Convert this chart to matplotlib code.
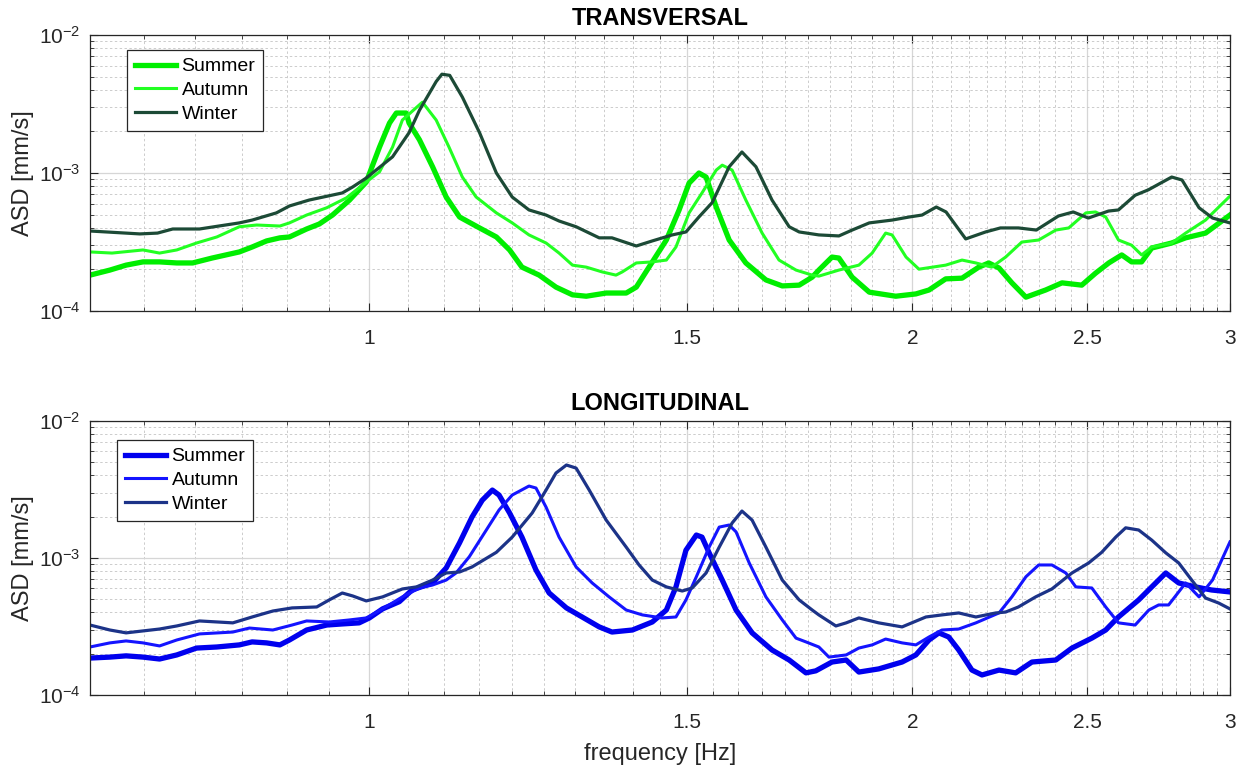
import numpy as np
import matplotlib
matplotlib.use("Agg")
import matplotlib.pyplot as plt
from matplotlib.ticker import FixedLocator, FixedFormatter, LogLocator, NullFormatter

plt.rcParams['font.family'] = ['Liberation Sans', 'DejaVu Sans']
plt.rcParams['mathtext.fontset'] = 'custom'
plt.rcParams['mathtext.rm'] = 'Liberation Sans'
plt.rcParams['mathtext.default'] = 'regular'

# ---- data (frequency in Hz, ASD in mm/s) ----
# TRANSVERSAL
f_t_summer = [0.700, 0.718, 0.733, 0.749, 0.765, 0.782, 0.798, 0.818, 0.847, 0.861,
              0.877, 0.892, 0.903, 0.923, 0.938, 0.954, 0.975, 0.996, 1.013, 1.026,
              1.035, 1.048, 1.052, 1.066, 1.084, 1.103, 1.122, 1.151, 1.176, 1.196,
              1.215, 1.242, 1.269, 1.296, 1.319, 1.353, 1.388, 1.406, 1.429, 1.461,
              1.485, 1.504, 1.523, 1.537, 1.557, 1.583, 1.617, 1.659, 1.694, 1.731,
              1.760, 1.775, 1.805, 1.821, 1.852, 1.893, 1.958, 2.009, 2.043, 2.087,
              2.131, 2.177, 2.205, 2.234, 2.271, 2.312, 2.371, 2.421, 2.483, 2.527,
              2.570, 2.613, 2.646, 2.680, 2.715, 2.785, 2.835, 2.908, 3.000]
a_t_summer = [1.82, 1.98, 2.15, 2.27, 2.27, 2.23, 2.23, 2.42, 2.68, 2.91,
              3.22, 3.39, 3.44, 3.93, 4.27, 4.96, 6.37, 8.6, 15.4, 23.0,
              27.2, 27.2, 23.0, 17.4, 11.1, 6.7, 4.8, 4.0, 3.44, 2.77,
              2.08, 1.82, 1.49, 1.31, 1.28, 1.35, 1.35, 1.49, 2.08, 3.27,
              5.4, 8.45, 10.0, 9.35, 5.67, 3.27, 2.23, 1.68, 1.52, 1.54,
              1.76, 1.98, 2.46, 2.42, 1.76, 1.37, 1.28, 1.33, 1.42, 1.71,
              1.73, 2.08, 2.23, 2.05, 1.60, 1.26, 1.42, 1.60, 1.54, 1.88,
              2.23, 2.55, 2.27, 2.27, 2.86, 3.11, 3.39, 3.67, 4.96]

f_t_autumn = [0.700, 0.720, 0.749, 0.765, 0.782, 0.802, 0.823, 0.847, 0.866, 0.892,
              0.903, 0.923, 0.947, 0.971, 0.996, 1.013, 1.030, 1.043, 1.070, 1.089,
              1.107, 1.126, 1.146, 1.176, 1.200, 1.226, 1.253, 1.274, 1.296, 1.319,
              1.346, 1.370, 1.381, 1.406, 1.435, 1.461, 1.479, 1.504, 1.529, 1.557,
              1.569, 1.589, 1.617, 1.651, 1.687, 1.724, 1.760, 1.775, 1.821, 1.868,
              1.900, 1.933, 1.949, 1.984, 2.017, 2.087, 2.131, 2.169, 2.213, 2.253,
              2.300, 2.350, 2.402, 2.442, 2.496, 2.527, 2.560, 2.602, 2.646, 2.680,
              2.715, 2.785, 2.835, 2.908, 3.000]
a_t_autumn = [2.68, 2.63, 2.77, 2.63, 2.77, 3.11, 3.44, 4.08, 4.20, 4.13,
              4.35, 4.96, 5.6, 6.6, 8.6, 10.2, 15.4, 24.2, 32.6, 24.2,
              15.4, 9.35, 6.7, 5.14, 4.35, 3.56, 3.11, 2.63, 2.15, 2.08,
              1.92, 1.82, 1.92, 2.23, 2.27, 2.34, 2.91, 5.14, 7.17, 10.5,
              11.4, 10.5, 6.37, 3.67, 2.34, 1.98, 1.82, 1.79, 1.98, 2.15,
              2.63, 3.67, 3.56, 2.46, 2.01, 2.15, 2.34, 2.23, 2.08, 2.46,
              3.16, 3.27, 3.86, 4.0, 5.14, 5.22, 4.8, 3.27, 3.0, 2.55,
              2.91, 3.11, 3.67, 4.56, 6.8]

f_t_winter = [0.700, 0.746, 0.763, 0.778, 0.805, 0.847, 0.861, 0.888, 0.903, 0.926,
              0.966, 0.979, 0.996, 1.030, 1.052, 1.066, 1.089, 1.097, 1.108, 1.126,
              1.151, 1.176, 1.200, 1.226, 1.253, 1.274, 1.302, 1.341, 1.363, 1.406,
              1.435, 1.472, 1.498, 1.523, 1.549, 1.583, 1.609, 1.638, 1.672, 1.709,
              1.731, 1.775, 1.821, 1.852, 1.893, 1.949, 1.992, 2.025, 2.062, 2.088,
              2.141, 2.196, 2.238, 2.290, 2.343, 2.410, 2.456, 2.504, 2.569, 2.602,
              2.658, 2.703, 2.785, 2.822, 2.884, 2.934, 3.000]
a_t_winter = [3.8, 3.62, 3.67, 3.93, 3.93, 4.35, 4.56, 5.14, 5.77, 6.37,
              7.17, 7.93, 9.2, 13.1, 19.6, 28.5, 46.0, 52.0, 51.0, 35.5,
              19.6, 10.0, 6.7, 5.4, 4.96, 4.49, 4.08, 3.39, 3.39, 2.96,
              3.22, 3.56, 3.74, 4.8, 6.1, 11.1, 14.2, 11.1, 6.37, 4.08,
              3.74, 3.56, 3.5, 3.86, 4.35, 4.56, 4.8, 4.96, 5.67, 5.22,
              3.33, 3.74, 4.0, 4.0, 3.86, 4.88, 5.22, 4.72, 5.3, 5.4,
              6.9, 7.55, 9.35, 8.9, 5.6, 4.72, 4.35]

# LONGITUDINAL
f_l_summer = [0.700, 0.718, 0.733, 0.749, 0.765, 0.782, 0.802, 0.823, 0.847, 0.861,
              0.877, 0.892, 0.903, 0.923, 0.947, 0.966, 0.987, 1.000, 1.017, 1.039,
              1.056, 1.084, 1.103, 1.122, 1.140, 1.155, 1.170, 1.180, 1.196, 1.215,
              1.237, 1.258, 1.286, 1.312, 1.341, 1.363, 1.399, 1.435, 1.461, 1.479,
              1.498, 1.518, 1.529, 1.543, 1.569, 1.597, 1.630, 1.672, 1.709, 1.746,
              1.768, 1.805, 1.838, 1.868, 1.916, 1.974, 2.009, 2.043, 2.069, 2.095,
              2.122, 2.158, 2.186, 2.234, 2.282, 2.330, 2.402, 2.452, 2.515, 2.560,
              2.602, 2.670, 2.715, 2.764, 2.810, 2.871, 2.930, 3.000]
a_l_summer = [1.86, 1.89, 1.93, 1.89, 1.83, 1.96, 2.2, 2.24, 2.32, 2.44,
              2.4, 2.32, 2.52, 2.98, 3.24, 3.3, 3.36, 3.65, 4.25, 4.8,
              5.84, 6.57, 8.45, 12.9, 19.9, 26.4, 31.3, 28.8, 21.3, 14.2,
              8.17, 5.55, 4.32, 3.71, 3.14, 2.88, 2.98, 3.41, 4.17, 6.15,
              11.4, 14.7, 14.2, 10.9, 6.9, 4.17, 2.84, 2.13, 1.80, 1.45,
              1.50, 1.74, 1.80, 1.47, 1.55, 1.74, 1.96, 2.52, 2.84, 2.65,
              2.13, 1.52, 1.40, 1.52, 1.45, 1.74, 1.80, 2.2, 2.6, 2.98,
              3.71, 4.94, 6.15, 7.77, 6.57, 6.15, 5.84, 5.65]

f_l_autumn = [0.700, 0.718, 0.733, 0.749, 0.765, 0.782, 0.805, 0.840, 0.858, 0.884,
              0.906, 0.923, 0.950, 0.975, 0.996, 1.017, 1.043, 1.066, 1.084, 1.103,
              1.117, 1.136, 1.161, 1.180, 1.200, 1.226, 1.237, 1.253, 1.274, 1.302,
              1.329, 1.358, 1.388, 1.417, 1.453, 1.479, 1.498, 1.518, 1.543, 1.563,
              1.583, 1.597, 1.624, 1.659, 1.694, 1.724, 1.746, 1.775, 1.798, 1.838,
              1.868, 1.900, 1.933, 1.974, 2.009, 2.043, 2.077, 2.122, 2.169, 2.234,
              2.271, 2.312, 2.350, 2.390, 2.433, 2.464, 2.515, 2.560, 2.602, 2.658,
              2.705, 2.739, 2.774, 2.835, 2.884, 2.934, 3.000]
a_l_autumn = [2.24, 2.4, 2.48, 2.4, 2.28, 2.52, 2.79, 2.88, 3.08, 2.98,
              3.24, 3.47, 3.41, 3.53, 3.65, 4.25, 5.2, 6.04, 6.35, 6.9,
              7.77, 10.2, 16.0, 22.4, 28.8, 33.5, 32.4, 23.5, 14.2, 8.6,
              6.57, 5.2, 4.17, 3.84, 3.65, 3.71, 4.94, 7.29, 12.0, 16.8,
              17.4, 15.5, 9.2, 5.2, 3.53, 2.6, 2.44, 2.24, 1.89, 1.96,
              2.2, 2.32, 2.56, 2.4, 2.32, 2.65, 2.98, 3.03, 3.36, 3.97,
              5.2, 7.29, 8.89, 8.89, 7.77, 6.15, 6.04, 4.39, 3.36, 3.24,
              4.17, 4.54, 4.54, 6.57, 5.2, 6.9, 13.1]

f_l_winter = [0.700, 0.718, 0.733, 0.765, 0.782, 0.805, 0.840, 0.861, 0.884, 0.906,
              0.935, 0.950, 0.966, 0.979, 0.996, 1.017, 1.043, 1.062, 1.084, 1.103,
              1.122, 1.140, 1.176, 1.200, 1.231, 1.253, 1.269, 1.286, 1.302, 1.324,
              1.353, 1.388, 1.411, 1.435, 1.461, 1.491, 1.510, 1.537, 1.563, 1.589,
              1.609, 1.630, 1.659, 1.694, 1.731, 1.760, 1.775, 1.814, 1.838, 1.868,
              1.916, 1.974, 2.035, 2.077, 2.122, 2.169, 2.225, 2.253, 2.290, 2.341,
              2.390, 2.452, 2.505, 2.547, 2.593, 2.626, 2.670, 2.715, 2.764, 2.810,
              2.857, 2.908, 2.957, 3.000]
a_l_winter = [3.24, 2.98, 2.84, 3.03, 3.19, 3.47, 3.36, 3.71, 4.1, 4.32,
              4.39, 4.94, 5.55, 5.28, 4.86, 5.2, 5.94, 6.15, 6.9, 7.77,
              7.9, 8.6, 11.0, 14.2, 21.3, 31.3, 41.7, 47.7, 45.3, 31.3,
              18.9, 12.0, 8.89, 6.9, 6.15, 5.74, 6.04, 7.77, 12.0, 18.0,
              22.0, 18.9, 12.0, 6.9, 4.94, 4.17, 3.84, 3.19, 3.36, 3.65,
              3.36, 3.14, 3.71, 3.84, 3.97, 3.71, 3.97, 4.03, 4.39, 5.2,
              5.94, 7.77, 9.2, 11.0, 14.2, 16.6, 16.0, 13.5, 10.9, 9.2,
              6.9, 5.1, 4.69, 4.25]

seasons = ['Summer', 'Autumn', 'Winter']
x_ticks = [1, 1.5, 2, 2.5, 3]
x_tick_labels = ['1', '1.5', '2', '2.5', '3']

TXT = '#262626'

fig = plt.figure(figsize=(12.43, 7.71), dpi=100)
ax1 = fig.add_axes([0.0724, 0.5966, 0.9171, 0.3580])
ax2 = fig.add_axes([0.0724, 0.0986, 0.9171, 0.3554])


def style_axes(ax, title, tpad):
    ax.set_xscale('log')
    ax.set_yscale('log')
    ax.set_xlim(0.7, 3.0)
    ax.set_ylim(1e-4, 1e-2)
    ax.xaxis.set_major_locator(FixedLocator(x_ticks))
    ax.xaxis.set_major_formatter(FixedFormatter(x_tick_labels))
    ax.xaxis.set_minor_locator(FixedLocator(np.arange(0.70, 3.001, 0.05)))
    ax.xaxis.set_minor_formatter(NullFormatter())
    ax.yaxis.set_major_locator(LogLocator(base=10, numticks=5))
    ax.yaxis.set_minor_locator(LogLocator(base=10, subs=np.arange(2, 10), numticks=20))
    ax.yaxis.set_minor_formatter(NullFormatter())
    ax.tick_params(which='both', direction='in', top=True, right=True,
                   colors=TXT, labelsize=15)
    ax.tick_params(which='major', length=6, width=0.8)
    ax.tick_params(which='minor', length=3, width=0.6)
    ax.tick_params(axis='x', which='major', pad=13)
    ax.tick_params(axis='y', which='major', pad=7)
    ax.set_axisbelow(True)
    ax.grid(True, which='major', color='#d6d6d6', lw=0.9, ls='-')
    ax.grid(True, which='minor', color='#cccccc', lw=0.7, ls=(0, (2.5, 2.5)))
    for s in ax.spines.values():
        s.set_color(TXT)
        s.set_linewidth(0.9)
    ax.set_ylabel('ASD [mm/s]', fontsize=17, color=TXT, labelpad=3)
    ax.set_title(title, fontsize=17, fontweight='bold', color='black', pad=tpad)


def add_legend(ax, anchor):
    leg = ax.legend(loc='upper left', bbox_to_anchor=anchor, borderaxespad=0,
                    fontsize=14, frameon=True, fancybox=False, framealpha=1,
                    edgecolor=TXT, handlelength=2.1, handletextpad=0.3,
                    labelspacing=0.32, borderpad=0.4)
    leg.get_frame().set_linewidth(0.9)


# top panel
ax1.plot(f_t_summer, np.array(a_t_summer) * 1e-4, color='#00ee00', lw=3.8,
         solid_joinstyle='round', label=seasons[0])
ax1.plot(f_t_autumn, np.array(a_t_autumn) * 1e-4, color='#22ff22', lw=2.2,
         solid_joinstyle='round', label=seasons[1])
ax1.plot(f_t_winter, np.array(a_t_winter) * 1e-4, color='#1c4a36', lw=2.3,
         solid_joinstyle='round', label=seasons[2])
style_axes(ax1, 'TRANSVERSAL', 7)
add_legend(ax1, (0.0325, 0.9457))

# bottom panel
ax2.plot(f_l_summer, np.array(a_l_summer) * 1e-4, color='#0000ee', lw=3.8,
         solid_joinstyle='round', label=seasons[0])
ax2.plot(f_l_autumn, np.array(a_l_autumn) * 1e-4, color='#1414ff', lw=2.2,
         solid_joinstyle='round', label=seasons[1])
ax2.plot(f_l_winter, np.array(a_l_winter) * 1e-4, color='#1c3388', lw=2.3,
         solid_joinstyle='round', label=seasons[2])
style_axes(ax2, 'LONGITUDINAL', 8)
ax2.set_xlabel('frequency [Hz]', fontsize=17, color=TXT, labelpad=8)
add_legend(ax2, (0.0237, 0.9307))

fig.savefig('out.png', dpi=100)
